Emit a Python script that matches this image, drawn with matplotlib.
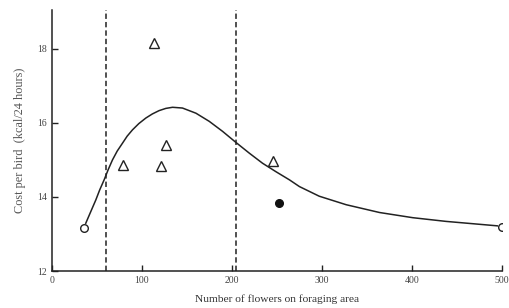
import matplotlib
matplotlib.use('Agg')
import matplotlib.pyplot as plt

# curve
curve_x = [37.5, 43, 48.7, 53, 57.9, 62.5, 67.2, 72.5, 78.3, 83.5, 89.4, 96.5, 104.3, 111.5, 119, 126.5,
           134, 145, 160, 174.8, 189.6, 204.5, 219.4, 234, 249, 264, 275, 297, 327, 364, 401, 438, 476, 495]
curve_y = [13.29, 13.6, 13.92, 14.19, 14.46, 14.74, 15.0, 15.24, 15.45, 15.64, 15.81, 15.98, 16.13, 16.24, 16.33, 16.39,
           16.42, 16.4, 16.26, 16.04, 15.77, 15.47, 15.18, 14.91, 14.68, 14.46, 14.28, 14.02, 13.79, 13.58, 13.44, 13.34, 13.26, 13.22]

open_x = [35, 500]
open_y = [13.16, 13.2]
tri_x = [79, 113, 121, 127, 246]
tri_y = [14.86, 18.16, 14.84, 15.4, 14.97]
filled_x = [252]
filled_y = [13.84]
bounds = [60, 205]

xticks = [0, 100, 200, 300, 400, 500]
yticks = [12, 14, 16, 18]

plt.rcParams['font.family'] = 'Liberation Serif'
fig = plt.figure(figsize=(5.1, 3.08), dpi=100)
ax = fig.add_axes([0.102, 0.12, 0.882, 0.848])

ax.plot(curve_x, curve_y, color='#222222', lw=1.1, solid_joinstyle='round')
for b in bounds:
    ax.axvline(b, color='#222222', lw=1.1, ls=(0, (3.5, 2)))
ax.plot(open_x, open_y, 'o', ms=5.5, mfc='white', mec='#222222', mew=1.0)
ax.plot(tri_x, tri_y, '^', ms=7, mfc='white', mec='#222222', mew=1.0)
ax.plot(filled_x, filled_y, 'o', ms=5.5, color='#111111')

ax.set_xlim(0, 500)
ax.set_ylim(12, 19.05)
ax.set_xticks(xticks)
ax.set_yticks(yticks)
ax.spines['top'].set_visible(False)
ax.spines['right'].set_visible(False)
for s in ['left', 'bottom']:
    ax.spines[s].set_linewidth(1.1)
    ax.spines[s].set_color('#222222')
ax.tick_params(direction='in', length=4, width=1, colors='#222222', labelsize=7, labelcolor='#444444')
ax.set_xlabel('Number of flowers on foraging area', fontsize=8.2, color='#333333', labelpad=7)
ax.set_ylabel('Cost per bird  (kcal/24 hours)', fontsize=8.8, color='#555555', labelpad=8)

fig.savefig('out.png', dpi=100)
